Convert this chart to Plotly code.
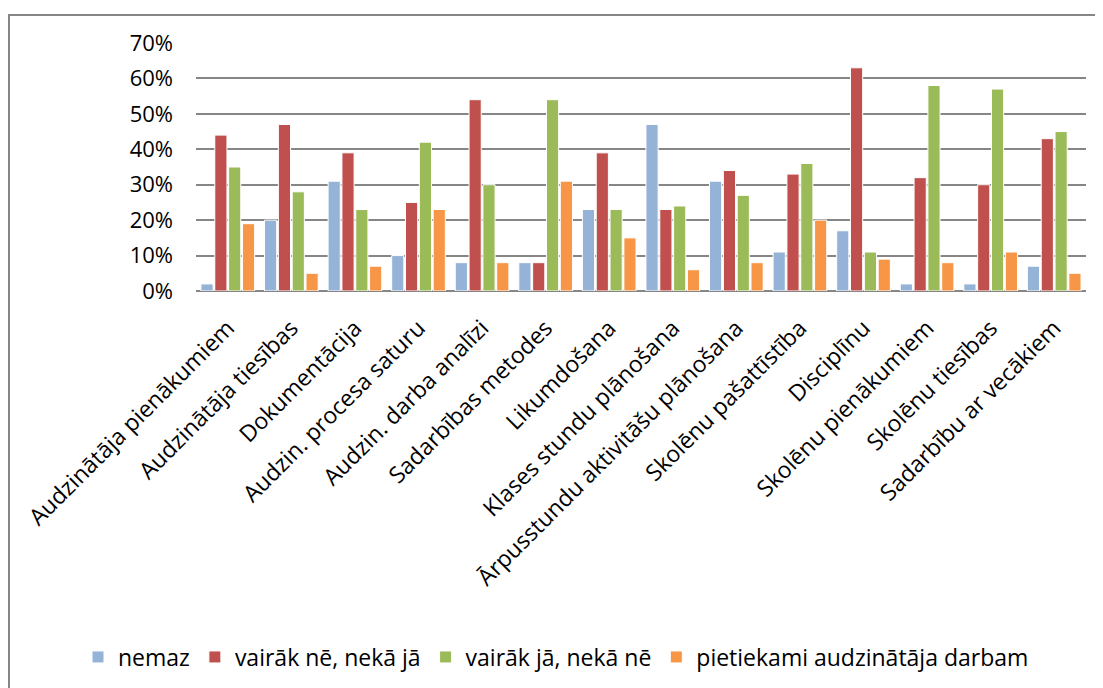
import plotly.graph_objects as go

categories = [
    "Audzinātāja pienākumiem", "Audzinātāja tiesības", "Dokumentācija",
    "Audzin. procesa saturu", "Audzin. darba analīzi", "Sadarbības metodes",
    "Likumdošana", "Klases stundu plānošana", "Ārpusstundu aktivitāšu plānošana",
    "Skolēnu pašattīstība", "Disciplīnu", "Skolēnu pienākumiem",
    "Skolēnu tiesības", "Sadarbību ar vecākiem",
]
nemaz = [2, 20, 31, 10, 8, 8, 23, 47, 31, 11, 17, 2, 2, 7]
vairak_ne = [44, 47, 39, 25, 54, 8, 39, 23, 34, 33, 63, 32, 30, 43]
vairak_ja = [35, 28, 23, 42, 30, 54, 23, 24, 27, 36, 11, 58, 57, 45]
pietiekami = [19, 5, 7, 23, 8, 31, 15, 6, 8, 20, 9, 8, 11, 5]

series_names = ["nemaz", "vairāk nē, nekā jā", "vairāk jā, nekā nē",
                "pietiekami audzinātāja darbam"]
series_values = [nemaz, vairak_ne, vairak_ja, pietiekami]
colors = ["#95B3D7", "#C0504D", "#9BBB59", "#F79646"]

FONT = "Open Sans"
FS = 22
FS_X = 23

fig = go.Figure()
for name, vals, col in zip(series_names, series_values, colors):
    fig.add_trace(go.Bar(
        x=categories, y=[v / 100 for v in vals], name=name,
        marker=dict(color=col, line=dict(color="white", width=1)),
    ))

# page body has an 8px margin; work in page pixels and shift
OFF = 8
W, H = 1103 - OFF, 688 - OFF
L, R, T, B = 196 - OFF, 1103 - 1086, 43 - OFF, 688 - 291
pw, ph = W - L - R, H - T - B

def px2paper_x(px):
    return (px - OFF - L) / pw

def px2paper_y(py):
    return (H - B - (py - OFF)) / ph

fig.update_layout(
    template="none",
    width=W, height=H,
    margin=dict(l=L, r=R, t=T, b=B, autoexpand=False),
    paper_bgcolor="white", plot_bgcolor="white",
    barmode="group", bargap=0.13, bargroupgap=0.12,
    font=dict(family=FONT, size=FS, color="#000000"),
    showlegend=True,
    legend=dict(
        orientation="h", xref="paper", x=px2paper_x(78), xanchor="left",
        y=px2paper_y(657), yanchor="middle",
        font=dict(family=FONT, size=FS_X, color="#000000"),
        itemwidth=30, tracegroupgap=0,
        bgcolor="rgba(0,0,0,0)",
    ),
    xaxis=dict(
        type="category", tickangle=-45, automargin=False,
        showgrid=False, zeroline=False, showline=False,
        ticks="", ticklabelstandoff=18,
        tickfont=dict(family=FONT, size=FS_X, color="#000000"),
    ),
    yaxis=dict(
        range=[0, 0.7], dtick=0.1, tickformat=".0%", automargin=False,
        showgrid=True, gridcolor="#868686", gridwidth=2,
        zeroline=True, zerolinecolor="#868686", zerolinewidth=2,
        showline=False, ticks="", ticklabelstandoff=22,
        tickfont=dict(family=FONT, size=FS, color="#000000"),
    ),
    shapes=[dict(
        type="rect", xref="paper", yref="paper",
        x0=px2paper_x(9), x1=px2paper_x(1115),
        y0=px2paper_y(700), y1=px2paper_y(15),
        line=dict(color="#868686", width=2), fillcolor="rgba(0,0,0,0)",
        layer="below",
    )],
)

fig.write_html("out.html")
